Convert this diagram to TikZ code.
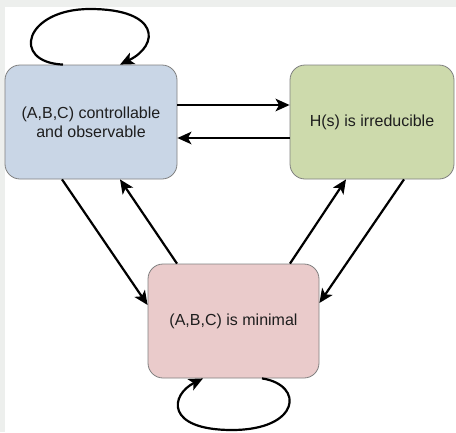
\documentclass[tikz,border=0pt]{standalone}
\usepackage{fontspec}
\setmainfont{Liberation Sans}
\usetikzlibrary{arrows.meta}
\definecolor{bgray}{HTML}{EDEFED}
\definecolor{boxA}{HTML}{C9D6E6}
\definecolor{boxB}{HTML}{CDDAAC}
\definecolor{boxC}{HTML}{EACBCB}
\definecolor{edge}{HTML}{808080}
\definecolor{txt}{HTML}{1E1E1E}
\begin{document}
\begin{tikzpicture}[x=1pt,y=-1pt,
  state/.style={draw=edge, line width=0.8pt, rounded corners=15pt, inner sep=0pt,
    align=center, text=txt, font=\fontsize{16}{19}\selectfont},
  arr/.style={line width=2.2pt, -{Stealth[length=14pt,width=12.5pt,inset=3.5pt]}}]
\useasboundingbox (0,0) rectangle (456,432);
\fill[bgray] (0,0) rectangle (456,432);
\fill[white] (5,7) rectangle (456,432);
\node[state, fill=boxA, minimum width=172pt, minimum height=114pt] (A) at (91,122)
  {(A,B,C) controllable\\and observable};
\node[state, fill=boxB, minimum width=164pt, minimum height=114pt] (B) at (372,122)
  {H(s) is irreducible};
\node[state, fill=boxC, minimum width=171pt, minimum height=114pt] (C) at (233.5,321)
  {(A,B,C) is minimal};
% horizontal pair
\draw[arr] ([yshift=17pt]A.east) -- ([yshift=17pt]B.west);
\draw[arr] ([yshift=-16pt]B.west) -- ([yshift=-16pt]A.east);
% diagonals
\draw[arr] ([xshift=-29pt]A.south) -- ([yshift=16pt]C.west);
\draw[arr] ([xshift=-56.5pt]C.north) -- ([xshift=29pt]A.south);
\draw[arr] ([xshift=56.5pt]C.north) -- ([xshift=-26pt]B.south);
\draw[arr] ([xshift=32pt]B.south) -- ([yshift=18pt]C.east);
% self loops
\draw[arr] ([xshift=-28pt]A.north) .. controls (10,62) and (25,9) .. (90,9)
  .. controls (160,9) and (160,45) .. ([xshift=29pt]A.north);
\draw[arr] ([xshift=28.5pt]C.south) .. controls (305,385) and (300,430) .. (232,430)
  .. controls (165,430) and (170,395) .. ([xshift=-30.5pt]C.south);
\end{tikzpicture}
\end{document}
